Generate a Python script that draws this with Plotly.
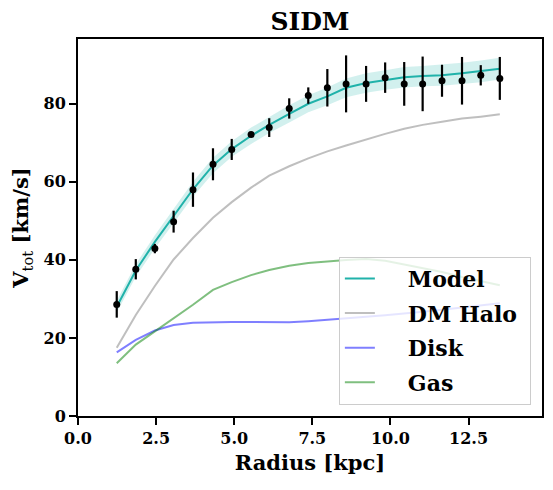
import plotly.graph_objects as go

radius = [1.24, 1.85, 2.46, 3.06, 3.68, 4.32, 4.92, 5.54, 6.12, 6.76, 7.37,
          7.98, 8.58, 9.22, 9.83, 10.44, 11.03, 11.65, 12.29, 12.89, 13.5]
v_obs = [28.6, 37.6, 42.9, 49.8, 58.0, 64.5, 68.3, 72.1, 73.9, 78.8, 82.1,
         84.1, 85.1, 85.1, 86.7, 85.1, 85.1, 85.9, 85.9, 87.3, 86.5]
v_err = [3.4, 2.6, 1.2, 2.8, 4.4, 4.1, 2.7, 0.5, 2.4, 2.6, 2.1,
         4.8, 7.3, 4.6, 3.9, 5.6, 7.0, 4.1, 6.1, 2.6, 5.5]
v_model = [28.0, 37.3, 44.6, 51.2, 58.1, 64.2, 68.4, 71.8, 74.6, 77.4, 80.0,
           81.9, 84.1, 85.3, 86.1, 86.8, 87.1, 87.3, 87.8, 88.3, 89.0]
model_err = [1.5, 1.6, 1.7, 1.8, 1.9, 2.0, 2.0, 2.1, 2.1, 2.2, 2.2,
             2.3, 2.4, 2.5, 2.5, 2.6, 2.6, 2.7, 2.7, 2.8, 2.8]
v_halo = [17.5, 25.9, 33.3, 40.1, 45.6, 50.8, 54.8, 58.5, 61.6, 64.0, 66.0,
          67.8, 69.3, 70.9, 72.3, 73.6, 74.6, 75.4, 76.2, 76.7, 77.3]
v_disk = [16.3, 19.5, 21.9, 23.3, 23.9, 24.1, 24.1, 24.1, 24.0, 24.0, 24.3,
          24.6, 25.0, 25.4, 25.8, 26.2, 26.7, 27.2, 27.8, 28.3, 28.9]
v_gas = [13.5, 18.3, 21.7, 25.0, 28.5, 32.3, 34.3, 36.1, 37.4, 38.5, 39.2,
         39.6, 40.0, 40.2, 39.8, 38.8, 37.9, 36.9, 35.6, 34.5, 33.5]

x_ticks = [0.0, 2.5, 5.0, 7.5, 10.0, 12.5]
x_tick_labels = ["0.0", "2.5", "5.0", "7.5", "10.0", "12.5"]
y_ticks = [0, 20, 40, 60, 80]
legend_names = ["Model", "DM Halo", "Disk", "Gas"]

FONT = "DejaVu Serif"
teal = "#20B2AA"

# page body has an 8px margin; figure is sized to fit the 553x490 window
W, H = 545, 482

upper = [m + e for m, e in zip(v_model, model_err)]
lower = [m - e for m, e in zip(v_model, model_err)]

fig = go.Figure()
fig.add_trace(go.Scatter(x=radius, y=upper, mode="lines", line=dict(width=0),
                         showlegend=False, hoverinfo="skip"))
fig.add_trace(go.Scatter(x=radius, y=lower, mode="lines", line=dict(width=0),
                         fill="tonexty", fillcolor="rgba(32,178,170,0.2)",
                         showlegend=False, hoverinfo="skip"))
line_series = [(v_model, teal), (v_halo, "rgba(128,128,128,0.5)"),
               (v_disk, "rgba(0,0,255,0.5)"), (v_gas, "rgba(0,128,0,0.5)")]
for i, ((vals, col), name) in enumerate(zip(line_series, legend_names)):
    fig.add_trace(go.Scatter(x=radius, y=vals, mode="lines",
                             name="\u00a0\u00a0\u00a0\u00a0<b>" + name + "</b>\u00a0",
                             legendgroup=f"g{i}", legendrank=i + 1,
                             line=dict(color=col, width=2)))
fig.add_trace(go.Scatter(x=radius, y=v_obs, mode="markers", showlegend=False,
                         marker=dict(color="black", size=7),
                         error_y=dict(type="data", array=v_err, color="black",
                                      thickness=2.2, width=0)))

fig.update_layout(
    width=W, height=H,
    margin=dict(l=70, r=11, t=31, b=74, autoexpand=False),
    paper_bgcolor="white", plot_bgcolor="white",
    font=dict(family=FONT, color="black"),
    title=dict(text="<b>SIDM</b>", x=0.5, xref="paper", xanchor="center",
               y=1 - 13 / H, yref="container", yanchor="middle",
               font=dict(size=25, family=FONT, color="black")),
    legend=dict(x=0.976, y=0.03, xanchor="right", yanchor="bottom",
                traceorder="grouped",
                bgcolor="rgba(255,255,255,0.8)", bordercolor="#cccccc",
                borderwidth=1, font=dict(size=22, family=FONT, color="black"),
                tracegroupgap=3),
)
fig.update_xaxes(range=[0, 14.85], tickvals=x_ticks, ticktext=[f"<b>{t}</b>" for t in x_tick_labels],
                 showline=True, linecolor="black", linewidth=2, mirror=True,
                 ticks="outside", ticklen=7, tickwidth=1.5, tickcolor="black",
                 showgrid=False, zeroline=False, automargin=False,
                 tickfont=dict(size=16, family=FONT),
                 title=dict(text="<b>Radius [kpc]</b>", font=dict(size=21, family=FONT), standoff=8))
fig.update_yaxes(range=[0, 96.6], tickvals=y_ticks, ticktext=[f"<b>{t}</b>" for t in y_ticks],
                 showline=True, linecolor="black", linewidth=2, mirror=True,
                 ticks="outside", ticklen=7, tickwidth=1.5, tickcolor="black",
                 showgrid=False, zeroline=False, automargin=False,
                 tickfont=dict(size=16, family=FONT),
                 title=dict(text="<b>V</b><sub>tot</sub><b> [km/s]</b>", font=dict(size=21, family=FONT), standoff=9))

fig.write_html("out.html")
